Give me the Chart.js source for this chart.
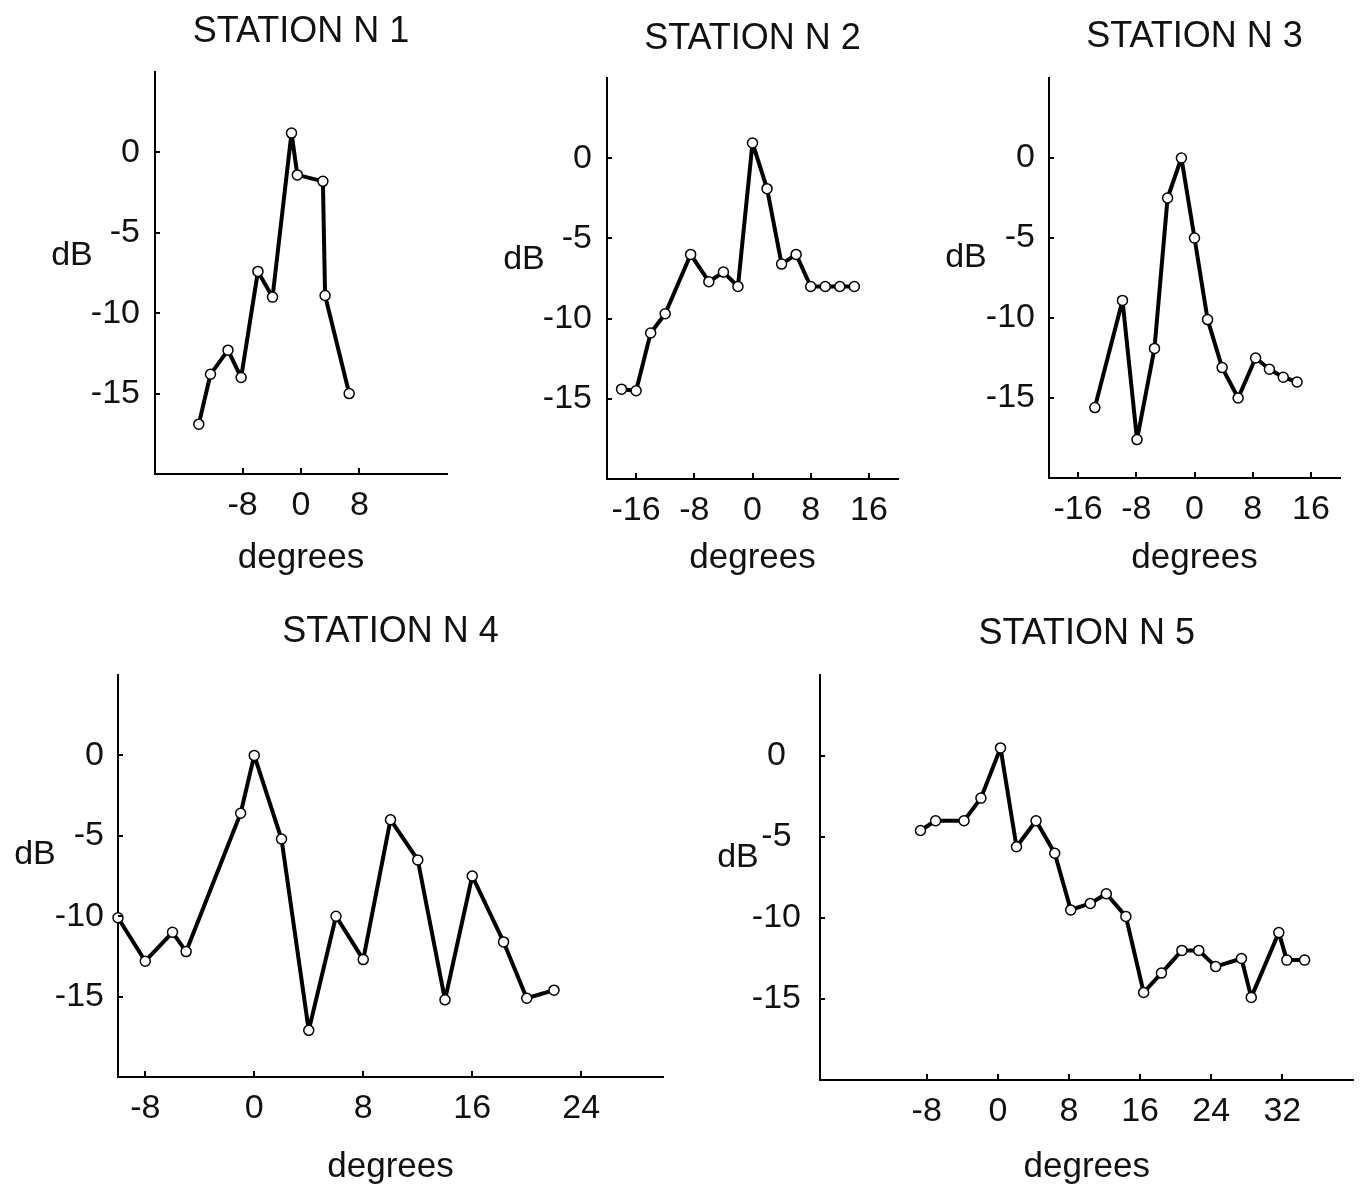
<!DOCTYPE html>
<html><head><meta charset="utf-8">
<script src="https://cdn.jsdelivr.net/npm/chart.js@4.4.1/dist/chart.umd.min.js"></script>
<style>
html,body{margin:0;padding:0;background:#fff;}
#wrap{position:relative;width:1360px;height:1188px;overflow:hidden;background:#fff;}
canvas{position:absolute;}
</style></head>
<body><div id="wrap"></div>
<script>
// ---------- data ----------
const titles = ['STATION N 1', 'STATION N 2', 'STATION N 3', 'STATION N 4', 'STATION N 5'];
const yLabel = 'dB';
const xLabel = 'degrees';
const yTicks = [-15, -10, -5, 0];
const xTicks1 = [-8, 0, 8];
const xTicks2 = [-16, -8, 0, 8, 16];
const xTicks3 = [-16, -8, 0, 8, 16];
const xTicks4 = [-8, 0, 8, 16, 24];
const xTicks5 = [-8, 0, 8, 16, 24, 32];

const deg1 = [-14, -12.4, -10, -8.2, -5.9, -3.9, -1.3, -0.5, 3, 3.3, 6.6];
const db1  = [-16.9, -13.8, -12.3, -14, -7.4, -9, 1.2, -1.4, -1.8, -8.9, -15];

const deg2 = [-18, -16, -14, -12, -8.5, -6, -4, -2, 0, 2, 4, 6, 8, 10, 12, 14];
const db2  = [-14.4, -14.5, -10.9, -9.7, -6, -7.7, -7.1, -8, 0.95, -1.9, -6.6, -6, -8, -8, -8, -8];

const deg3 = [-13.7, -9.9, -7.9, -5.5, -3.7, -1.8, 0, 1.8, 3.8, 6, 8.4, 10.3, 12.2, 14.1];
const db3  = [-15.6, -8.9, -17.6, -11.9, -2.5, 0, -5, -10.1, -13.1, -15, -12.5, -13.2, -13.7, -14];

const deg4 = [-10, -8, -6, -5, -1, 0, 2, 4, 6, 8, 10, 12, 14, 16, 18.3, 20, 22];
const db4  = [-10.1, -12.8, -11, -12.2, -3.6, 0, -5.2, -17.1, -10, -12.7, -4, -6.5, -15.2, -7.5, -11.6, -15.1, -14.6];

const deg5 = [-8.7, -7, -3.8, -1.9, 0.3, 2.1, 4.3, 6.4, 8.2, 10.4, 12.2, 14.4, 16.4, 18.4, 20.7, 22.6, 24.5, 27.4, 28.5, 31.6, 32.5, 34.5];
const db5  = [-4.6, -4, -4, -2.6, 0.5, -5.6, -4, -6, -9.5, -9.1, -8.5, -9.9, -14.6, -13.4, -12, -12, -13, -12.5, -14.9, -10.9, -12.6, -12.6];

// ---------- layout / style ----------
const FONT = '"Liberation Sans", Arial, Helvetica, sans-serif';
const TXT = '#111';
const FS = 34;
const LH = FS * 1.2;
const TFS = 36;
const TLH = TFS * 1.2;
const DFS = 35;
const DLH = DFS * 1.2;

// canvas [left, top, w, h] ; area [left, top, right, bottom] relative to canvas
const panels = [
  {canvas:[0,0,470,590],     area:[155,72,447,474],  titleY:32, degY:558, dbPos:[72,256],  xMin:-20, xMax:20, xt:xTicks1, xs:deg1, ys:db1, yAlign:'near',   yPad:15},
  {canvas:[470,0,440,590],   area:[137,78,428,479],  titleY:39, degY:558, dbPos:[54,260],  xMin:-20, xMax:20, xt:xTicks2, xs:deg2, ys:db2, yAlign:'near',   yPad:15},
  {canvas:[910,0,450,590],   area:[139,78,430,478],  titleY:37, degY:558, dbPos:[56,258],  xMin:-20, xMax:20, xt:xTicks3, xs:deg3, ys:db3, yAlign:'near',   yPad:14},
  {canvas:[0,590,680,598],   area:[118,85,663,487],  titleY:42, degY:578, dbPos:[35,265],  xMin:-10, xMax:30, xt:xTicks4, xs:deg4, ys:db4, yAlign:'near',   yPad:14},
  {canvas:[680,590,680,598], area:[140,85,678,490],  titleY:44, degY:578, dbPos:[58,268],  xMin:-20, xMax:40, xt:xTicks5, xs:deg5, ys:db5, yAlign:'center', yPad:19}
];

const decor = {
  id: 'decor',
  afterDraw(chart, args, o) {
    const ctx = chart.ctx, a = chart.chartArea, xsc = chart.scales.x, ysc = chart.scales.y;
    ctx.save();
    ctx.strokeStyle = '#000';
    ctx.lineWidth = 2;
    ctx.beginPath();
    xsc.ticks.forEach(t => {
      const px = Math.round(xsc.getPixelForValue(t.value));
      ctx.moveTo(px, a.bottom); ctx.lineTo(px, a.bottom - 6);
    });
    ysc.ticks.forEach(t => {
      const py = Math.round(ysc.getPixelForValue(t.value));
      ctx.moveTo(a.left, py); ctx.lineTo(a.left + 5, py);
    });
    ctx.stroke();
    ctx.font = FS + 'px ' + FONT;
    ctx.fillStyle = TXT;
    ctx.textAlign = 'center';
    ctx.textBaseline = 'middle';
    ctx.fillText(o.text, o.x, o.y);
    ctx.restore();
  }
};

const wrap = document.getElementById('wrap');
panels.forEach((p, i) => {
  const [cl, ct, cw, ch] = p.canvas;
  const [al, at, ar, ab] = p.area;
  const cv = document.createElement('canvas');
  cv.width = cw; cv.height = ch;
  cv.style.left = cl + 'px'; cv.style.top = ct + 'px';
  cv.style.width = cw + 'px'; cv.style.height = ch + 'px';
  wrap.appendChild(cv);

  const tPadTop = p.titleY - TLH / 2;
  const tPadBot = at - TLH - tPadTop;
  let xh = p.degY + DLH / 2 - ab;
  let padB = ch - ab - xh;
  if (padB < 0) { xh += padB; padB = 0; }
  const yw = al;
  const padR = cw - ar;

  new Chart(cv, {
    type: 'line',
    data: {
      datasets: [{
        data: p.xs.map((x, k) => ({x: x, y: p.ys[k]})),
        borderColor: '#000',
        borderWidth: 4,
        borderJoinStyle: 'round',
        borderCapStyle: 'round',
        pointRadius: 5,
        pointBorderWidth: 1.5,
        pointBackgroundColor: '#fff',
        pointBorderColor: '#000',
        tension: 0,
        fill: false,
        clip: false
      }]
    },
    options: {
      responsive: false,
      animation: false,
      devicePixelRatio: 1,
      layout: {padding: {left: 0, top: 0, right: padR, bottom: padB}},
      plugins: {
        legend: {display: false},
        tooltip: {enabled: false},
        title: {
          display: true, text: titles[i], fullSize: false, color: TXT,
          font: {family: FONT, size: TFS, weight: 'normal', lineHeight: 1.2},
          padding: {top: tPadTop, bottom: tPadBot}
        },
        decor: {text: yLabel, x: p.dbPos[0], y: p.dbPos[1]}
      },
      scales: {
        x: {
          type: 'linear', min: p.xMin, max: p.xMax,
          afterBuildTicks: s => { s.ticks = p.xt.map(v => ({value: v})); },
          afterFit: s => { s.height = xh; },
          grid: {display: false, drawTicks: false},
          border: {display: true, color: '#000', width: 2},
          ticks: {padding: 11, color: TXT, font: {family: FONT, size: FS, lineHeight: 1.2},
                  maxRotation: 0, autoSkip: false, callback: v => String(v)},
          title: {display: true, text: xLabel, color: TXT,
                  font: {family: FONT, size: DFS, lineHeight: 1.2}, padding: {top: 0, bottom: 0}}
        },
        y: {
          type: 'linear', min: -20, max: 5,
          afterBuildTicks: s => { s.ticks = yTicks.map(v => ({value: v})); },
          afterFit: s => { s.width = yw; },
          grid: {display: false, drawTicks: false},
          border: {display: true, color: '#000', width: 2},
          ticks: {padding: p.yPad, crossAlign: p.yAlign, color: TXT,
                  font: {family: FONT, size: FS, lineHeight: 1.2}, autoSkip: false, callback: v => String(v)}
        }
      }
    },
    plugins: [decor]
  });
});
</script>
</body></html>
